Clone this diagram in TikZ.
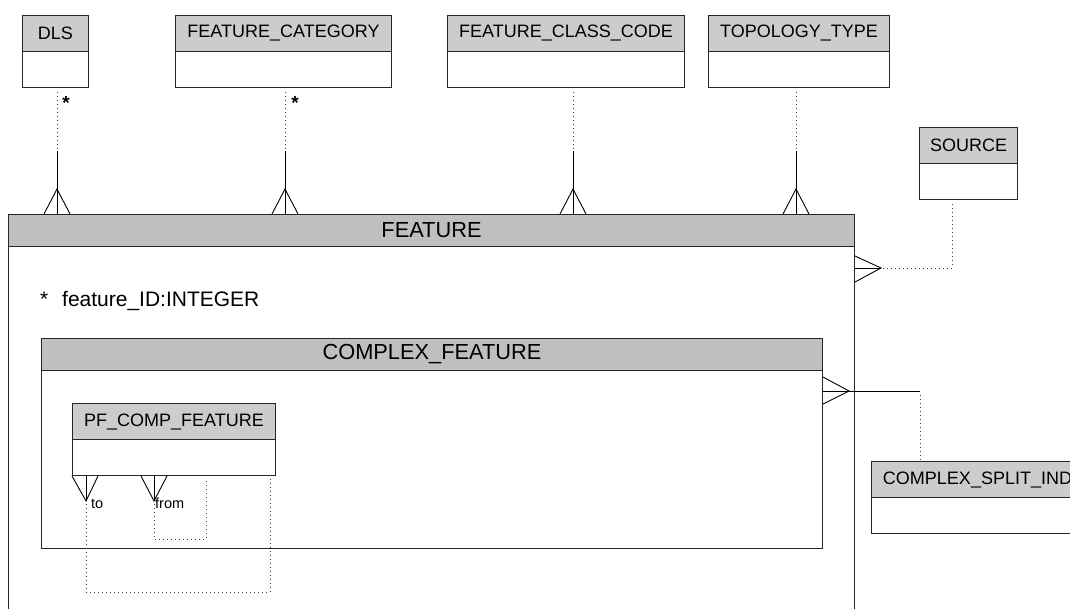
\documentclass[tikz,border=0pt]{standalone}
\usepackage{fontspec}
\setmainfont{Liberation Sans}
\usetikzlibrary{calc}
\begin{document}
\begin{tikzpicture}[x=1pt,y=-1pt,
  box/.style={draw=black!85, line width=1pt, anchor=north west, inner sep=0pt, fill=white},
  hdr/.style={draw=black!85, line width=1pt, anchor=north west, inner sep=0pt, fill=black!20, font=\fontsize{18}{20}\selectfont},
  bighdr/.style={hdr, fill=black!25, font=\fontsize{21.8}{24}\selectfont},
  dots/.style={draw=black!75, line width=1pt, dash pattern=on 1pt off 3pt},
  rel/.style={draw=black, line width=0.9pt},
  star/.style={anchor=base, inner sep=0pt, font=\fontsize{19}{20}\selectfont\bfseries},
  lbl/.style={anchor=base west, inner sep=0pt, font=\fontsize{14.5}{16}\selectfont},
]
\clip (0,0) rectangle (1070,608);
\fill[white] (0,0) rectangle (1070,608);

% FEATURE
\node[box, minimum width=846, minimum height=420] (feat) at (8,214) {};
\node[bighdr, minimum width=846, minimum height=32] (feath) at (8,214) {FEATURE};
\node[anchor=base west, inner sep=0pt, font=\fontsize{21}{24}\selectfont] (fid) at (40,306) {*\hspace{13.8pt}feature\_ID:INTEGER};

% COMPLEX_FEATURE
\node[box, minimum width=781, minimum height=210] (cf) at (41,338) {};
\node[bighdr, minimum width=781, minimum height=32] (cfh) at (41,338) {COMPLEX\_FEATURE};

% PF_COMP_FEATURE
\node[box, minimum width=203, minimum height=72] (pf) at (72,403) {};
\node[hdr, minimum width=203, minimum height=36] (pfh) at (72,403) {PF\_COMP\_FEATURE};

% top entities
\node[box, minimum width=66, minimum height=72] (dls) at (22,15) {};
\node[hdr, minimum width=66, minimum height=36] (dlsh) at (22,15) {DLS};
\node[box, minimum width=216, minimum height=72] (fc) at (175,15) {};
\node[hdr, minimum width=216, minimum height=36] (fch) at (175,15) {FEATURE\_CATEGORY};
\node[box, minimum width=237, minimum height=72] (fcc) at (447,15) {};
\node[hdr, minimum width=237, minimum height=36] (fcch) at (447,15) {FEATURE\_CLASS\_CODE};
\node[box, minimum width=181, minimum height=72] (tt) at (708,15) {};
\node[hdr, minimum width=181, minimum height=36] (tth) at (708,15) {TOPOLOGY\_TYPE};
\node[box, minimum width=98, minimum height=72] (src) at (919,127) {};
\node[hdr, minimum width=98, minimum height=36] (srch) at (919,127) {SOURCE};
\node[box, minimum width=212, minimum height=72] (csi) at (871,461) {};
\node[hdr, minimum width=212, minimum height=36] (csih) at (871,461) {COMPLEX\_SPLIT\_IND};

% top connectors (dotted from parent, solid stem, crow's foot on FEATURE)
\foreach \e/\x in {dls/57, fc/285, fcc/573, tt/796}{
  \coordinate (a) at (\e.south west -| \x,0);
  \coordinate (b) at (feat.north west -| \x,0);
  \draw[dots] ($(a)+(0,4)$) -- ($(b)+(0,-65)$);
  \draw[rel] ($(b)+(0,-63)$) -- (b);
  \draw[rel] ($(b)+(-13,0)$) -- ($(b)+(0,-25)$) -- ($(b)+(13,0)$);
}
\node[star] (s1) at (66,109) {*};
\node[star] (s2) at (295,109) {*};

% SOURCE connector
\coordinate (srcb) at (src.south west -| 952,0);
\coordinate (fr) at (feat.north east |- 0,268);
\draw[dots] ($(srcb)+(0,4)$) |- ($(fr)+(28,0)$);
\draw[rel] (fr) -- ($(fr)+(26,0)$);
\draw[rel] ($(fr)+(0,-12)$) -- ($(fr)+(26,0)$) -- ($(fr)+(0,14)$);

% COMPLEX_SPLIT_IND connector
\coordinate (cfr) at (cf.north east |- 0,391);
\coordinate (csit) at (csi.north west -| 920,0);
\draw[rel] ($(cfr)+(0,-14)$) -- ($(cfr)+(26,0)$) -- ($(cfr)+(0,13)$);
\draw[rel] (cfr) -- (cfr -| csit);
\draw[dots] ($(cfr -| csit)+(0,4)$) -- (csit);

% PF_COMP_FEATURE self relations
\coordinate (pfsw) at (pf.south west);
\draw[rel] (pfsw) -- ($(pfsw)+(14,25)$) -- ($(pfsw)+(26,0)$);
\draw[rel] ($(pfsw)+(14,0)$) -- ($(pfsw)+(14,25)$);
\draw[dots] ($(pfsw)+(14,28)$) -- ($(pfsw)+(14,116)$) -| ($(pfsw)+(198,3)$);
\node[lbl] (lto) at ($(pfsw)+(19,32)$) {to};

\draw[rel] ($(pfsw)+(69,0)$) -- ($(pfsw)+(82,25)$) -- ($(pfsw)+(95,0)$);
\draw[rel] ($(pfsw)+(82,0)$) -- ($(pfsw)+(82,25)$);
\draw[dots] ($(pfsw)+(82,28)$) -- ($(pfsw)+(82,63)$) -| ($(pfsw)+(134,3)$);
\node[lbl] (lfrom) at ($(pfsw)+(83,32)$) {from};
\end{tikzpicture}
\end{document}
